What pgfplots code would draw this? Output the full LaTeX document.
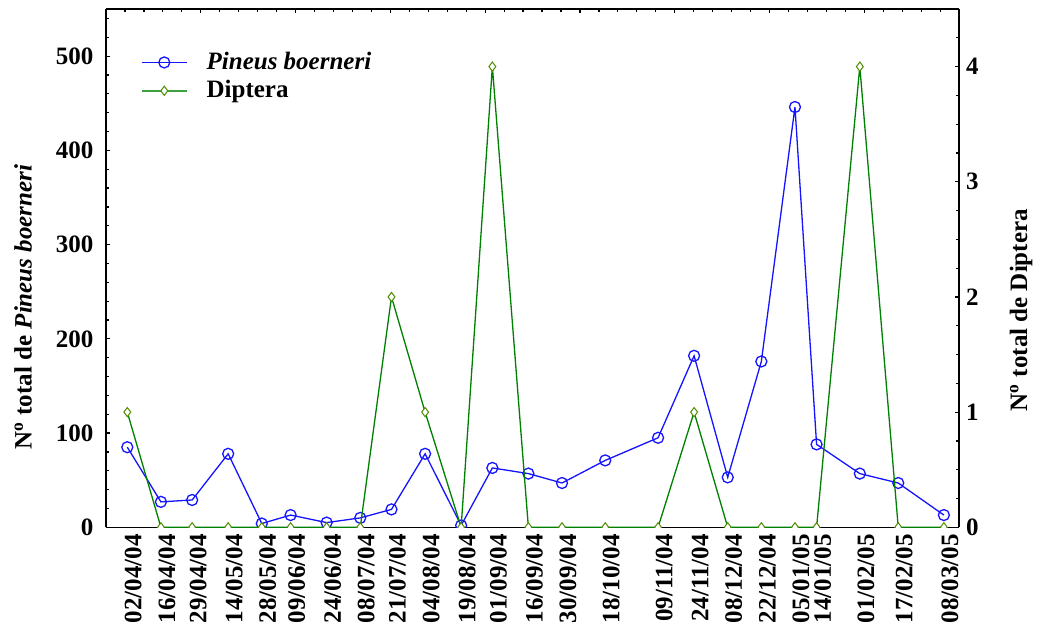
\documentclass[border=0pt]{standalone}
\usepackage{fontspec}
\setmainfont{Liberation Serif}
\usepackage{pgfplots}
\usepackage{pgfplotstable}
\pgfplotsset{compat=1.18}

\definecolor{pbblue}{RGB}{20,20,255}
\definecolor{dipline}{RGB}{0,128,0}
\definecolor{dipmark}{RGB}{80,140,0}
\definecolor{diplegend}{RGB}{60,160,60}

% day = days since 02/04/04
\pgfplotstableread{
day pineus diptera
0   85  1
14  27  0
27  29  0
42  78  0
56  4   0
68  13  0
83  5   0
97  10  0
110 19  2
124 78  1
139 2   0
152 63  4
167 57  0
181 47  0
199 71  0
221 95  0
236 182 1
250 53  0
264 176 0
278 446 0
287 88  0
305 57  4
321 47  0
340 13  0
}\samples

\newcommand{\lblfont}{\fontsize{12.5}{15}\selectfont\bfseries}

\pgfplotsset{
  common/.style={
    scale only axis, width=426.5pt, height=259.15pt,
    xmin=-8.87, xmax=346.3,
    clip marker paths=true,
    axis line style={line width=0.8pt},
    major tick length=2.2pt, minor tick length=1.35pt,
    tick style={line width=0.6pt, black},
    tick label style={font=\lblfont},
    label style={font=\lblfont},
    /pgf/number format/assume math mode=true,
  },
}

\begin{document}
\begin{tikzpicture}
\useasboundingbox (-53pt,-53.35pt) rectangle (466.5pt,263.65pt);

% left axis: Pineus boerneri
\begin{axis}[common,
  axis x line*=bottom, axis y line*=left,
  ymin=0, ymax=550,
  ytick={0,100,...,500}, minor ytick={20,40,...,540},
  yticklabel style={xshift=-2.8pt},
  xtick=\empty, minor xtick={1,11,...,341},
  extra x ticks={0,14,27,42,56,68,83,97,110,124,139,152,167,181,199,221,236,250,264,278,287,305,321,340},
  extra x tick labels={02/04/04,16/04/04,29/04/04,14/05/04,28/05/04,09/06/04,24/06/04,08/07/04,21/07/04,04/08/04,19/08/04,01/09/04,16/09/04,30/09/04,18/10/04,09/11/04,24/11/04,08/12/04,22/12/04,05/01/05,14/01/05,01/02/05,17/02/05,08/03/05},
  extra x tick style={major tick length=0pt,
    tick label style={rotate=90, anchor=east, yshift=-3pt}},
  ylabel={N\textsuperscript{o} total de \textit{Pineus boerneri}},
  ylabel style={at={(axis description cs:-0.0973,0.425)}, anchor=center},
  legend style={at={(axis description cs:0.0405,0.925)}, anchor=north west,
    draw=none, fill=none, font=\lblfont, inner sep=0pt, row sep=0pt},
  legend cell align=left,
  legend image code/.code={
    \draw[mark repeat=2, mark phase=2] plot coordinates {(0pt,0pt) (11.25pt,0pt) (22.5pt,0pt)};
    \path (30pt,0pt);},
]
\addplot[pbblue, line width=0.65pt, mark=o, mark size=2.75pt,
  mark options={fill=white, line width=0.65pt}]
  table[x=day, y=pineus] {\samples};
\addlegendentry{\textit{Pineus boerneri}}
\addlegendimage{diplegend, line width=0.85pt, mark=diamond*, mark size=2.3pt,
  mark options={fill=white, draw=dipmark, line width=0.5pt}}
\addlegendentry{Diptera}
\end{axis}

% right axis: Diptera
\begin{axis}[common,
  axis x line*=top, axis y line*=right,
  ymin=0, ymax=4.5,
  ytick={0,1,...,4}, minor ytick={0.25,0.5,...,4.25},
  xtick={-8.87,30.6,70.07,109.54,149.01,188.48,227.95,267.42,306.89},
  xticklabels={},
  minor xtick={-0.976,6.918,...,338.4},
  ylabel={N\textsuperscript{o} total de Diptera},
  ylabel style={at={(axis description cs:1.0727,0.419)}, anchor=center},
]
\addplot[dipline, line width=0.65pt, mark=diamond*, mark size=2.3pt,
  mark options={fill=white, draw=dipmark, line width=0.5pt}]
  table[x=day, y=diptera] {\samples};
\end{axis}
\end{tikzpicture}
\end{document}
